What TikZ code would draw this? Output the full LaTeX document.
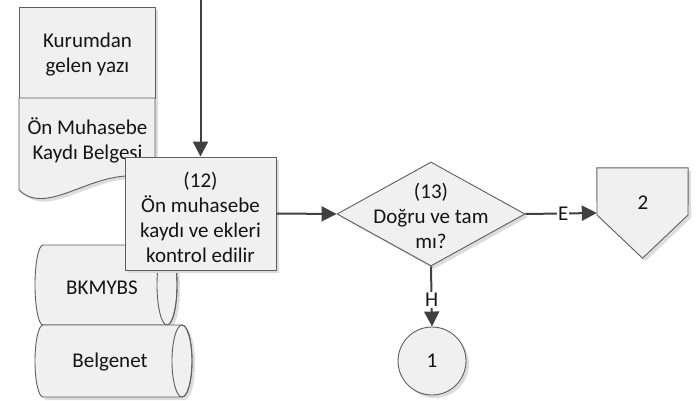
\documentclass[tikz,border=0pt]{standalone}
\usepackage{fontspec}
\setmainfont{Carlito}
\usetikzlibrary{arrows.meta,shadows,shapes.geometric}
\definecolor{fillc}{HTML}{F0F0F0}
\definecolor{linec}{HTML}{5E5E5E}
\definecolor{arrc}{HTML}{404040}
\definecolor{shd}{HTML}{DCDCDC}
\tikzset{
 shp/.style={draw=linec, line width=0.9pt, fill=fillc, drop shadow={shadow xshift=3pt, shadow yshift=-3pt, fill=shd, opacity=1}},
 txt/.style={align=center, font=\fontsize{21}{25}\selectfont, text=black!92, inner sep=0pt},
 conn/.style={draw=arrc, line width=2pt, -{Triangle[length=15pt,width=15pt]}},
 lbl/.style={fill=white, font=\fontsize{21}{24}\selectfont, text=black!92, inner sep=1pt},
}
\begin{document}
\begin{tikzpicture}[x=1pt, y=-1pt]
\path[use as bounding box] (0,0) rectangle (696,401);
% documents
\path[shp] (19,7) rectangle (155,98);
\node[txt] (doc1) at (87.5,55) {Kurumdan\\gelen yazı};
\path[shp] (19,98) -- (155,98) -- (155,180) .. controls (100,160) and (50,220) .. (19,190) -- cycle;
\node[txt] (doc2) at (87.5,140) {Ön Muhasebe\\Kaydı Belgesi};
% cylinders
\path[shp] (43,245) -- (167,245) arc[start angle=90, end angle=-90, x radius=10pt, y radius=40pt]
  -- (43,325) arc[start angle=270, end angle=90, x radius=8pt, y radius=40pt] -- cycle;
\draw[draw=linec, line width=0.9pt] (167,285) ellipse [x radius=10pt, y radius=40pt];
\node[txt] (db1) at (102,288) {BKMYBS};
\path[shp] (43,325) -- (182,325) arc[start angle=90, end angle=-90, x radius=10pt, y radius=36pt]
  -- (43,397) arc[start angle=270, end angle=90, x radius=8pt, y radius=36pt] -- cycle;
\draw[draw=linec, line width=0.9pt] (182,361) ellipse [x radius=10pt, y radius=36pt];
\node[txt] (db2) at (110,362) {Belgenet};
% process
\node[shp, minimum width=151pt, minimum height=113pt, inner sep=0pt] (p12) at (200.5,213.5) {};
\node[txt] (p12t) at (200.5,217) {(12)\\Ön muhasebe\\kaydı ve ekleri\\kontrol edilir};
% decision
\node[shp, diamond, minimum width=188pt, minimum height=104pt, inner sep=0pt] (dec) at (431,214) {};
\node[txt] (dect) at (431,216) {(13)\\Doğru ve tam\\mı?};
% off-page connector
\node[minimum width=91pt, minimum height=90pt, inner sep=0pt] (op) at (642.5,213) {};
\path[shp] (op.north west) -- (op.north east) -- (688,215) -- (op.south) -- (597,215) -- cycle;
\node[txt] (opt) at (643,203) {2};
% on-page connector
\node[shp, circle, minimum size=68pt, inner sep=0pt] (c1) at (432,361) {};
\node[txt] (c1t) at (432,361) {1};
% connectors
\coordinate (src) at (200.5,0);
\draw[conn] (src) -- (p12.north);
\draw[conn] (p12.east) -- (dec.west);
\draw[conn] (dec.east) -- node[lbl, pos=0.53] {E} (op.west);
\draw[conn] (dec.south) -- node[lbl, pos=0.56] {H} (c1.north);
\end{tikzpicture}
\end{document}
